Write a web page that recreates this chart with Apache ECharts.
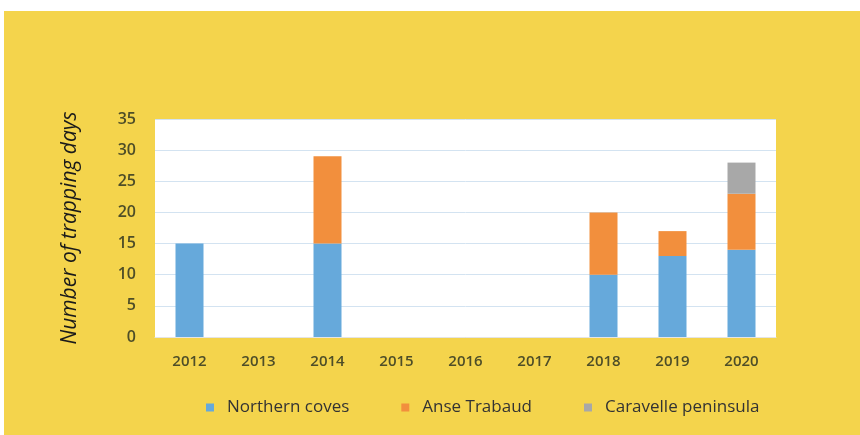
<!DOCTYPE html>
<html>
<head>
<meta charset="utf-8">
<script src="https://cdn.jsdelivr.net/npm/echarts@6/dist/echarts.min.js"></script>
<style>
  html, body { margin: 0; padding: 0; background: #fff; }
  .frame {
    position: absolute;
    left: 4px;
    top: 11px;
    width: 856px;
    height: 424px;
    background: #f4d44c;
  }
  .chart {
    position: absolute;
    left: 0;
    top: 0;
    width: 860px;
    height: 435px;
  }
</style>
</head>
<body>
<div class="frame"></div>
<div id="chart" class="chart"></div>
<script>
// data
var years = ['2012', '2013', '2014', '2015', '2016', '2017', '2018', '2019', '2020']
var northernCoves = [15, null, 15, null, null, null, 10, 13, 14]
var anseTrabaud = [null, null, 14, null, null, null, 10, 4, 9]
var caravelle = [null, null, null, null, null, null, null, null, 5]
var yTicks = [0, 5, 10, 15, 20, 25, 30, 35]

var chart = echarts.init(document.getElementById('chart'))
chart.setOption({
  backgroundColor: 'transparent',
  textStyle: { fontFamily: 'Open Sans' },
  grid: {
    left: 155,
    right: 84,
    top: 119,
    bottom: 98,
    show: true,
    backgroundColor: '#ffffff',
    borderWidth: 0
  },
  legend: {
    left: 201,
    top: 394,
    itemWidth: 8,
    itemHeight: 8,
    itemGap: 52,
    icon: 'rect',
    textStyle: { fontSize: 17, color: '#333333', fontFamily: 'Open Sans', padding: [0, 0, 0, 8] },
    data: ['Northern coves', 'Anse Trabaud', 'Caravelle peninsula']
  },
  xAxis: {
    type: 'category',
    data: years,
    axisLine: { show: true, lineStyle: { color: '#e4e4e4' } },
    axisTick: { show: false },
    axisLabel: { color: '#4e4e28', fontSize: 15, margin: 17, fontWeight: 600 }
  },
  yAxis: {
    type: 'value',
    min: yTicks[0],
    max: yTicks[yTicks.length - 1],
    interval: 5,
    name: 'Number of trapping days',
    nameLocation: 'middle',
    nameGap: 74,
    nameTextStyle: { fontSize: 21, fontStyle: 'italic', color: '#1a1a1a', fontFamily: 'Open Sans' },
    axisLine: { show: false },
    axisTick: { show: false },
    axisLabel: { color: '#4e4e28', fontSize: 16, margin: 19, fontWeight: 600 },
    splitLine: { lineStyle: { color: '#d3e3f1', width: 1 } }
  },
  series: [
    {
      name: 'Northern coves',
      type: 'bar',
      stack: 'days',
      barWidth: 28,
      itemStyle: { color: '#66a9db' },
      data: northernCoves
    },
    {
      name: 'Anse Trabaud',
      type: 'bar',
      stack: 'days',
      barWidth: 28,
      itemStyle: { color: '#f28f3d' },
      data: anseTrabaud
    },
    {
      name: 'Caravelle peninsula',
      type: 'bar',
      stack: 'days',
      barWidth: 28,
      itemStyle: { color: '#a8a8a8' },
      data: caravelle
    }
  ]
})
</script>
</body>
</html>
